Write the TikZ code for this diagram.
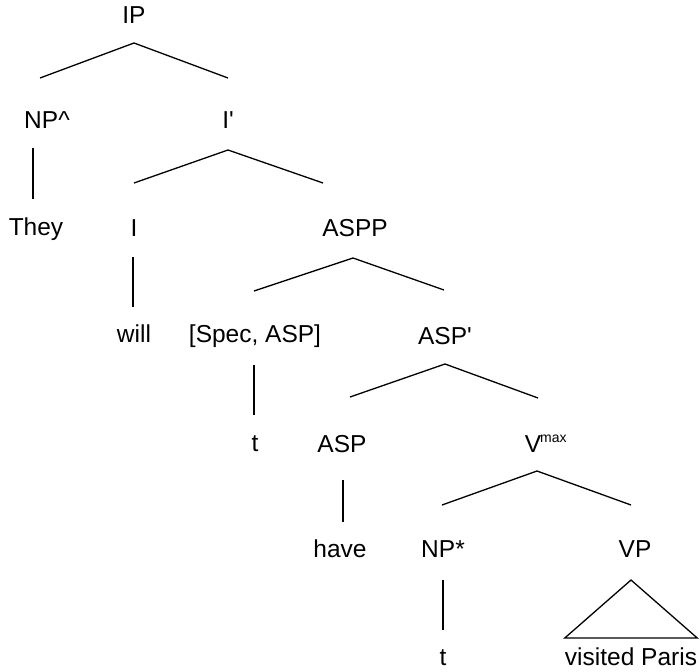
\documentclass[tikz,border=0pt]{standalone}
\usepackage{fontspec}
\setmainfont{Liberation Sans}
\begin{document}
\begin{tikzpicture}[x=1pt,y=-1pt,
  lbl/.style={font=\fontsize{24.5}{29}\selectfont, anchor=base, inner sep=0pt},
  edge/.style={line width=1.3pt, line join=miter}]
\useasboundingbox (0,0) rectangle (700,671);
% labels
\node[lbl] (IP)   at (134,24)  {IP};
\node[lbl] (NP)   at (47,129)  {NP\textasciicircum};
\node[lbl] (Ib)   at (228,129) {I\textquotesingle};
\node[lbl] (They) at (36,235)  {They};
\node[lbl] (I)    at (134,236) {I};
\node[lbl] (ASPP) at (355,236) {ASPP};
\node[lbl] (will) at (134,342) {will};
\node[lbl] (Spec) at (255,342) {[Spec, ASP]};
\node[lbl] (ASPb) at (445,344) {ASP\textquotesingle};
\node[lbl] (t1)   at (255,451) {t};
\node[lbl] (ASP)  at (342,452) {ASP};
\node[lbl] (Vmax) at (546,452) {V\textsuperscript{\kern-1pt\fontsize{14}{14}\selectfont max}};
\node[lbl] (have) at (340,557) {have};
\node[lbl] (NPs)  at (443,557) {NP*};
\node[lbl] (VP)   at (635,557) {VP};
\node[lbl] (t2)   at (443,665) {t};
\node[lbl] (VPt)  at (631,665) {visited Paris};
% branches
\draw[edge] ([xshift=-7pt,yshift=51pt]NP.base) -- ([yshift=-19pt]IP.base) -- ([yshift=51pt]Ib.base);
\draw[edge] ([xshift=-14pt,yshift=-19pt]NP.base) -- ([xshift=-3pt,yshift=36pt]They.base);
\draw[edge] ([yshift=53pt]I.base) -- ([yshift=-21pt]Ib.base) -- ([xshift=-32pt,yshift=53pt]ASPP.base);
\draw[edge] ([xshift=-1pt,yshift=-21pt]I.base) -- ([xshift=-1pt,yshift=35pt]will.base);
\draw[edge] ([xshift=-1pt,yshift=51pt]Spec.base) -- ([xshift=-2pt,yshift=-22pt]ASPP.base) -- ([xshift=-1pt,yshift=54pt]ASPb.base);
\draw[edge] ([xshift=-1pt,yshift=-23pt]Spec.base) -- ([xshift=-1pt,yshift=36pt]t1.base);
\draw[edge] ([xshift=8pt,yshift=55pt]ASP.base) -- ([yshift=-20pt]ASPb.base) -- ([xshift=-8pt,yshift=54pt]Vmax.base);
\draw[edge] ([xshift=1pt,yshift=-28pt]ASP.base) -- ([xshift=3pt,yshift=35pt]have.base);
\draw[edge] ([xshift=-1pt,yshift=52pt]NPs.base) -- ([xshift=-9pt,yshift=-19pt]Vmax.base) -- ([xshift=-4pt,yshift=52pt]VP.base);
\draw[edge] ([yshift=-23pt]NPs.base) -- ([yshift=35pt]t2.base);
\draw[edge] ([xshift=-4pt,yshift=-23pt]VP.base) -- ([yshift=27pt]VPt.base -| VPt.west) -- ([yshift=27pt]VPt.base -| VPt.east) -- cycle;
\end{tikzpicture}
\end{document}
